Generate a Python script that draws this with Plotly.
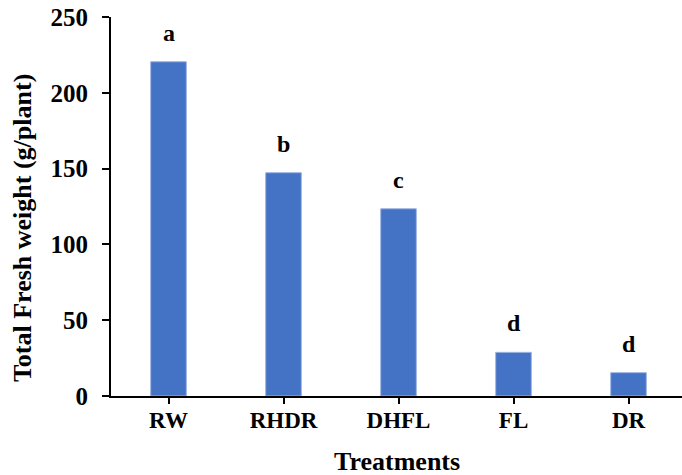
import plotly.graph_objects as go

# Total fresh weight per treatment, with significance letters
treatments = ["RW", "RHDR", "DHFL", "FL", "DR"]
fresh_weight = [220.5, 147.3, 123.5, 28.8, 15.4]
sig_letters = ["a", "b", "c", "d", "d"]
y_ticks = [0, 50, 100, 150, 200, 250]

FONT = "Liberation Serif"
BAR_BLUE = "#4472C4"

fig = go.Figure()
fig.add_trace(go.Bar(
    x=treatments,
    y=fresh_weight,
    width=0.31,
    marker=dict(color=BAR_BLUE, line=dict(color="#9db5e3", width=1)),
    hoverinfo="x+y",
))

# Letters sitting above each bar
for t, v, s in zip(treatments, fresh_weight, sig_letters):
    fig.add_annotation(
        x=t, y=v, text=s, showarrow=False,
        xanchor="center", yanchor="bottom", yshift=14,
        font=dict(family=FONT, size=24, color="black", weight="bold"),
    )

# Axis titles
fig.add_annotation(
    text="Total Fresh weight (g/plant)", textangle=-90,
    xref="paper", yref="paper", x=0, y=0.443,
    xanchor="center", yanchor="middle", xshift=-89,
    showarrow=False,
    font=dict(family=FONT, size=26, color="black", weight="bold"),
)
fig.add_annotation(
    text="Treatments",
    xref="paper", yref="paper", x=0.5, y=0,
    xanchor="center", yanchor="middle", yshift=-65,
    showarrow=False,
    font=dict(family=FONT, size=26, color="black", weight="bold"),
)

fig.update_layout(
    width=682, height=475,
    margin=dict(l=111, r=0, t=17, b=79),
    paper_bgcolor="white", plot_bgcolor="white",
    font=dict(family=FONT, size=24, color="black", weight="bold"),
    showlegend=False,
    bargap=0.69,
)
fig.update_xaxes(
    range=[-0.5, 4.465],
    showline=True, linecolor="black", linewidth=2,
    ticks="outside", ticklen=6, tickwidth=1.5, tickcolor="black",
    ticklabelstandoff=-4,
    tickfont=dict(family=FONT, size=23, color="black", weight="bold"),
    showgrid=False, zeroline=False,
)
fig.update_yaxes(
    range=[0, 250], tickvals=y_ticks,
    showline=True, linecolor="black", linewidth=2,
    ticks="outside", ticklen=7, tickwidth=2, tickcolor="black",
    ticklabelstandoff=9,
    tickfont=dict(family=FONT, size=25, color="black", weight="bold"),
    showgrid=False, zeroline=False,
)

fig.write_html("out.html")
